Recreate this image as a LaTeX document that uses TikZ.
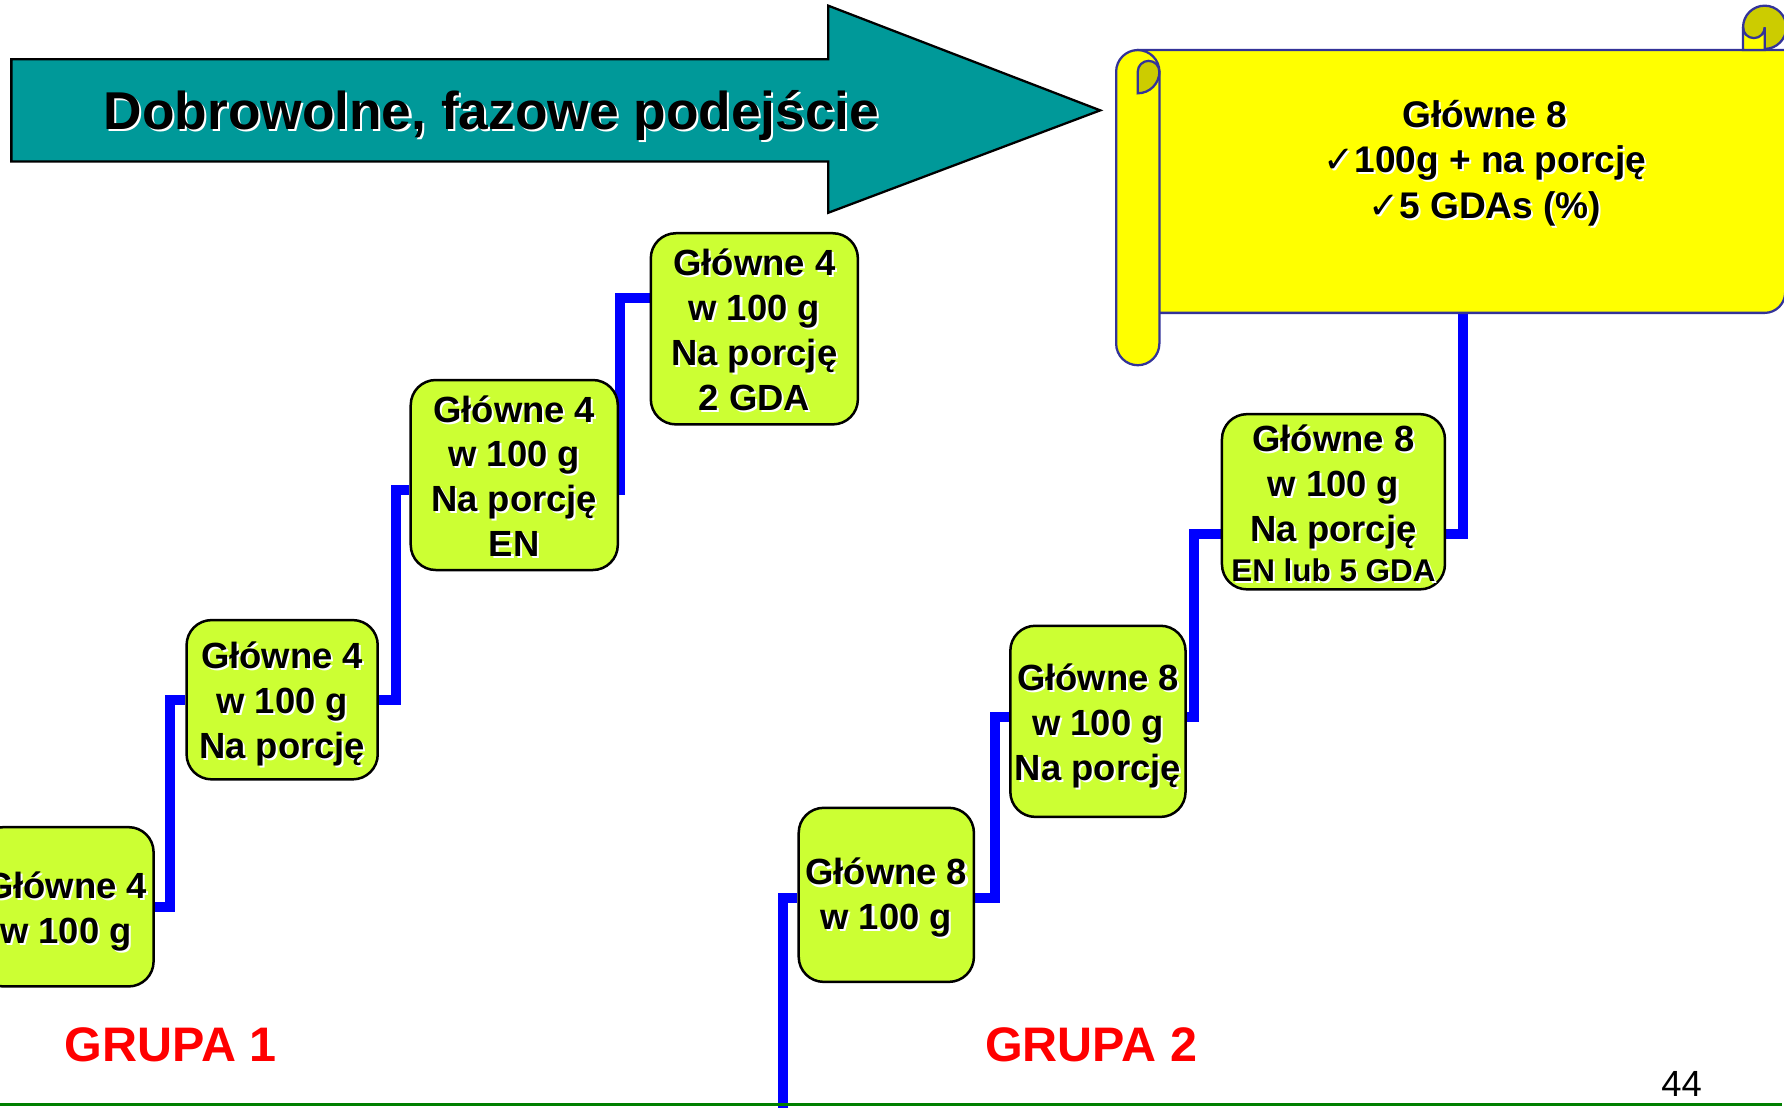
\documentclass[tikz,border=0pt]{standalone}
\usepackage{fontspec}
\setmainfont{Liberation Sans}
\newfontfamily\dejavu{DejaVu Sans}
\usetikzlibrary{calc}
\definecolor{tealA}{HTML}{009999}
\definecolor{boxgreen}{HTML}{CCFF33}
\definecolor{scrollyellow}{HTML}{FFFF00}
\definecolor{curlyellow}{HTML}{CCCC00}
\definecolor{scrollblue}{HTML}{333399}
\definecolor{connblue}{HTML}{0000FF}
\definecolor{grupared}{HTML}{FF0000}
\definecolor{lineGreen}{HTML}{008000}
\newcommand\shtxt[1]{\leavevmode\rlap{\kern0.9pt\raisebox{-0.9pt}{\color{white}#1}}#1}
\newcommand\firstl[2][15.5pt]{\rule{0pt}{#1}\shtxt{#2}}
\newcommand\chk{{\dejavu ✓}}
\pgfdeclarelayer{bgl}
\pgfsetlayers{bgl,main}
\tikzset{
  stepbox/.style={draw=black, line width=1.1pt, fill=boxgreen, rounded corners=11pt,
    inner sep=0pt, align=center, text=black,
    font=\fontsize{16}{19.7}\selectfont\bfseries},
  conn/.style={draw=connblue, line width=4.4pt, line join=miter},
  scrollpart/.style={draw=scrollblue, line width=1pt, fill=scrollyellow},
  curlpart/.style={draw=scrollblue, line width=1pt, fill=curlyellow},
  grupa/.style={text=grupared, font=\fontsize{21.3}{24}\selectfont\bfseries, anchor=base, inner sep=0pt},
}
\begin{document}
\begin{tikzpicture}[x=0.5pt,y=-0.5pt]
\useasboundingbox (0,0) rectangle (1568,973);

% title arrow
\filldraw[fill=tealA, draw=black, line width=1pt]
  (10,52) -- (728,52) -- (728,5) -- (967,97) -- (728,187) -- (728,142) -- (10,142) -- cycle;
\node[anchor=base, inner sep=0pt, font=\fontsize{23.4}{26}\selectfont\bfseries] (title) at (432,114)
  {\shtxt{Dobrowolne, fazowe podejście}};

% scroll
\path[scrollpart] (1000,44) -- (1569,44) -- (1569,257)
  arc[start angle=0, end angle=-90, radius=9pt] -- (1000,275) -- cycle;
\path[curlpart] (1551,24) circle[radius=9.5pt];
\path[scrollpart] (1532,24) -- (1532,44) -- (1551,44) -- (1551,24)
  arc[start angle=0, end angle=-180, radius=4.75pt] -- cycle;
\path[scrollpart] (981,63) arc[start angle=180, end angle=0, radius=9.5pt]
  -- (1019,302) arc[start angle=0, end angle=-180, radius=9.5pt] -- cycle;
\path[curlpart] (1000,82) -- (1000,63) arc[start angle=180, end angle=0, radius=4.75pt]
  arc[start angle=0, end angle=-90, radius=9.5pt] -- cycle;
\coordinate (scrollbot) at (1286,275);
\node[align=center, inner sep=0pt, font=\fontsize{16.3}{20}\selectfont\bfseries] (scrolltxt) at (1305,144)
  {\shtxt{Główne 8}\\ \shtxt{\chk100g + na porcję}\\ \shtxt{\chk5 GDAs (\%)}};

% boxes
\node[stepbox, minimum width=77pt, minimum height=70pt] (b1) at (58,797)
  {\firstl[16.5pt]{Główne 4}\\ \shtxt{w 100 g}};
\node[stepbox, minimum width=84pt, minimum height=70pt] (b2) at (248,615)
  {\firstl[16.5pt]{Główne 4}\\ \shtxt{w 100 g}\\ \shtxt{Na porcję}};
\node[stepbox, minimum width=91pt, minimum height=83.5pt] (b3) at (452,417.5)
  {\firstl[13.5pt]{Główne 4}\\ \shtxt{w 100 g}\\ \shtxt{Na porcję}\\ \shtxt{EN}};
\node[stepbox, minimum width=91pt, minimum height=84pt] (b4) at (663,289)
  {\firstl[13.5pt]{Główne 4}\\ \shtxt{w 100 g}\\ \shtxt{Na porcję}\\ \shtxt{2 GDA}};
\node[stepbox, minimum width=77pt, minimum height=76.5pt] (b5) at (779,786.5)
  {\firstl[15.3pt]{Główne 8}\\ \shtxt{w 100 g}};
\node[stepbox, minimum width=77pt, minimum height=84pt] (b6) at (965,634)
  {\firstl[16.5pt]{Główne 8}\\ \shtxt{w 100 g}\\ \shtxt{Na porcję}};
\node[stepbox, minimum width=98pt, minimum height=77pt] (b7) at (1172,441)
  {\firstl[14pt]{Główne 8}\\ \shtxt{w 100 g}\\ \shtxt{Na porcję}\\[-2pt] {\fontsize{13.8}{16}\selectfont\shtxt{EN lub 5 GDA}}};

% connectors
\coordinate (start) at (688,976);
\begin{pgfonlayer}{bgl}
\draw[conn] (start) |- ($(b5.west)+(0,2.5)$);
\draw[conn] (b1.east) -| ($(b1.east)!0.5!(b2.west)$) |- (b2.west);
\draw[conn] (b2.east) -- ++(15,0) |- ($(b3.west)+(0,13)$);
\draw[conn] ($(b3.east)+(-6,13)$) -- ++(7,0) |- ($(b4.west)+(0,-27)$);
\draw[conn] ($(b5.east)+(0,2.5)$) -- ++(17,0) |- ($(b6.west)+(0,-4)$);
\draw[conn] ($(b6.east)+(0,-4)$) -- ++(6,0) |- ($(b7.west)+(0,28)$);
\draw[conn] ($(b7.east)+(0,28)$) -| (scrollbot);
\end{pgfonlayer}

% labels
\node[grupa] (g1) at (150,933) {GRUPA 1};
\node[grupa] (g2) at (959,933) {GRUPA 2};
\node[anchor=base, inner sep=0pt, font=\fontsize{16}{18}\selectfont] (pnum) at (1478,964) {44};
\coordinate (gl) at (0,971);
\coordinate (gr) at (1566,971);
\draw[draw=lineGreen, line width=1.4pt] (gl) -- (gr);
\end{tikzpicture}
\end{document}
